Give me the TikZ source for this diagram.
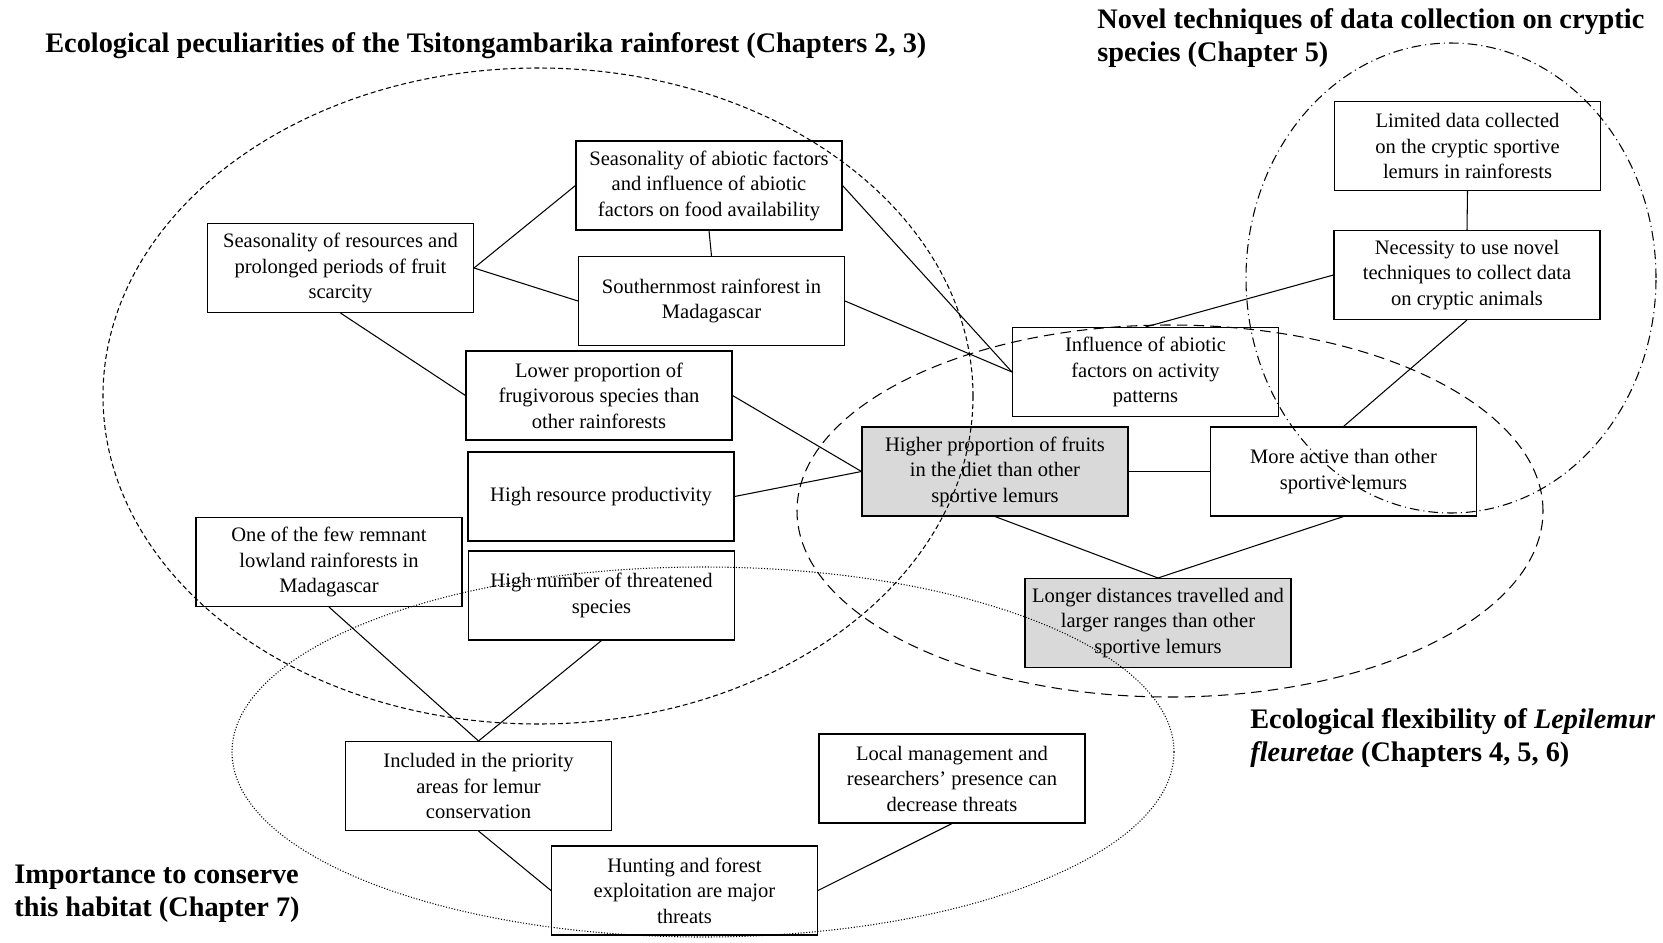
\documentclass[tikz,border=0pt]{standalone}
\usepackage{fontspec}
\setmainfont{Liberation Serif}
\usepackage{tikz}

\begin{document}
\begin{tikzpicture}[x=0.2mm,y=0.2mm]
\tikzstyle{every node}+=[inner sep=0pt]
\tikzstyle{box}=[draw=black,line width=0.6pt,align=center,minimum width=5.32cm,minimum height=1.78cm,font=\fontsize{11.7}{14.5}\selectfont]
\tikzstyle{greybox}=[box,fill=black!15]
\tikzstyle{title}=[align=left,anchor=west,font=\fontsize{16.1}{18.8}\selectfont\bfseries]
\useasboundingbox (0,0) rectangle (1663,-942);
\node [title] (tforest) at (45,-46) {Ecological peculiarities of the Tsitongambarika rainforest (Chapters 2, 3)};
\node [title] (tnovel) at (1097,-38) {Novel techniques of data collection on cryptic\\species (Chapter 5)};
\node [title] (tflex) at (1250,-738) {Ecological flexibility of \textit{Lepilemur}\\\textit{fleuretae} (Chapters 4, 5, 6)};
\node [title] (tconserve) at (14,-894) {Importance to conserve\\this habitat (Chapter 7)};
\node [box] (abiofood) at (709,-185.5) {Seasonality of abiotic factors\\and influence of abiotic\\factors on food availability};
\node [box] (resources) at (340.5,-268) {Seasonality of resources and\\prolonged periods of fruit\\scarcity};
\node [box] (southern) at (711.5,-301) {Southernmost rainforest in\\Madagascar};
\node [box] (lowerprop) at (599,-395.5) {Lower proportion of\\frugivorous species than\\other rainforests};
\node [box] (highprod) at (601,-496.5) {High resource productivity};
\node [box] (remnant) at (329,-562) {One of the few remnant\\lowland rainforests in\\Madagascar};
\node [box] (threatened) at (601.5,-595.5) {High number of threatened\\species};
\node [box] (influence) at (1145.5,-372) {Influence of abiotic\\factors on activity\\patterns};
\node [box] (limited) at (1467.5,-146) {Limited data collected\\on the cryptic sportive\\lemurs in rainforests};
\node [box] (necessity) at (1467,-275) {Necessity to use novel\\techniques to collect data\\on cryptic animals};
\node [greybox] (higher) at (995,-471.5) {Higher proportion of fruits\\in the diet than other\\sportive lemurs};
\node [box] (moreactive) at (1343.5,-471.5) {More active than other\\sportive lemurs};
\node [greybox] (longer) at (1158,-623) {Longer distances travelled and\\larger ranges than other\\sportive lemurs};
\node [box] (priority) at (478.5,-786) {Included in the priority\\areas for lemur\\conservation};
\node [box] (local) at (952,-778.5) {Local management and\\researchers' presence can\\decrease threats};
\node [box] (hunting) at (684.5,-890.5) {Hunting and forest\\exploitation are major\\threats};
\draw [black,line width=0.6pt] (resources.east) -- (abiofood.west);
\draw [black,line width=0.6pt] (resources.east) -- (southern.west);
\draw [black,line width=0.6pt] (abiofood.south) -- (southern.north);
\draw [black,line width=0.6pt] (resources.south) -- (lowerprop.west);
\draw [black,line width=0.6pt] (abiofood.east) -- (influence.west);
\draw [black,line width=0.6pt] (southern.east) -- (influence.west);
\draw [black,line width=0.6pt] (necessity.west) -- (influence.north);
\draw [black,line width=0.6pt] (limited.south) -- (necessity.north);
\draw [black,line width=0.6pt] (necessity.south) -- (moreactive.north);
\draw [black,line width=0.6pt] (lowerprop.east) -- (higher.west);
\draw [black,line width=0.6pt] (highprod.east) -- (higher.west);
\draw [black,line width=0.6pt] (higher.east) -- (moreactive.west);
\draw [black,line width=0.6pt] (higher.south) -- (longer.north);
\draw [black,line width=0.6pt] (moreactive.south) -- (longer.north);
\draw [black,line width=0.6pt] (remnant.south) -- (priority.north);
\draw [black,line width=0.6pt] (threatened.south) -- (priority.north);
\draw [black,line width=0.6pt] (priority.south) -- (hunting.west);
\draw [black,line width=0.6pt] (local.south) -- (hunting.east);
\draw [black,line width=0.6pt,dash pattern=on 2.8pt off 1.7pt] (538,-396) ellipse (435 and 328);
\draw [black,line width=0.6pt,dash pattern=on 5.5pt off 2.3pt on 0.6pt off 2.3pt] (1451,-278) ellipse (205 and 235);
\draw [black,line width=0.6pt,dash pattern=on 6pt off 3.5pt] (1170,-511) ellipse (373 and 186);
\draw [black,line width=0.6pt,densely dotted] (703,-752) ellipse (471 and 185);
\end{tikzpicture}
\end{document}
